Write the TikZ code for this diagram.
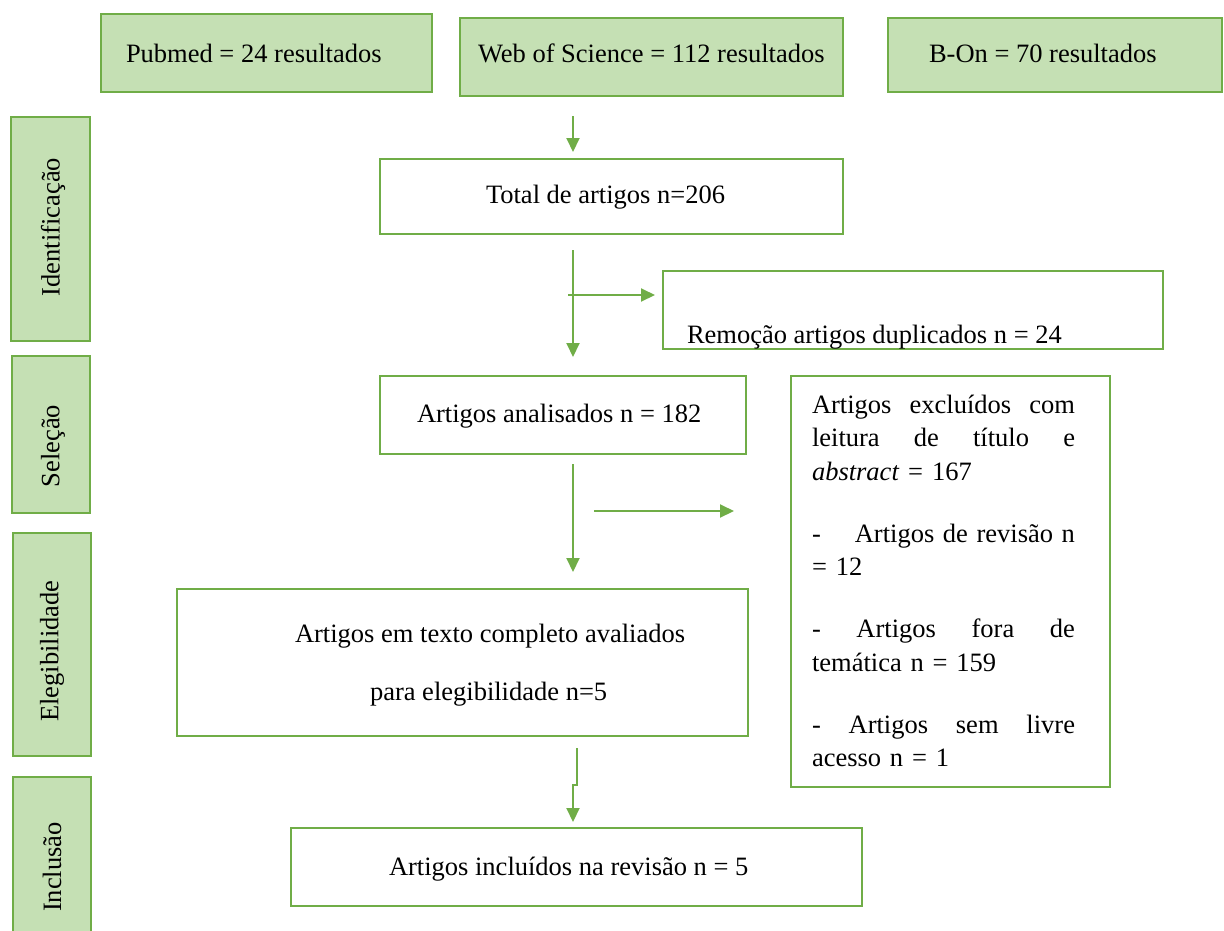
\documentclass[tikz,border=0pt]{standalone}
\usepackage{fontspec}
\setmainfont{Liberation Serif}
\usetikzlibrary{arrows.meta}
\definecolor{gfill}{HTML}{C5E0B4}
\definecolor{gline}{HTML}{70AD47}
\tikzset{
  gbox/.style={draw=gline, fill=gfill, line width=2.5pt, inner sep=0pt, outer sep=0pt},
  wbox/.style={draw=gline, fill=white, line width=2.5pt, inner sep=0pt, outer sep=0pt},
  txt/.style={inner sep=0pt, outer sep=0pt, anchor=base west, font=\fontsize{26.5}{33.5}\selectfont},
  side/.style={inner sep=0pt, outer sep=0pt, rotate=90, font=\fontsize{26.5}{33.5}\selectfont},
  arr/.style={draw=gline, line width=2pt, -{Triangle[width=13pt,length=14pt]}}
}
\begin{document}
\begin{tikzpicture}[x=1pt,y=-1pt]
\useasboundingbox (0,0) rectangle (1224,930);
% source boxes
\node[gbox, minimum width=331pt, minimum height=78pt] (pub) at (266.5,53) {};
\node[gbox, minimum width=383pt, minimum height=78pt] (wos) at (651.5,57) {};
\node[gbox, minimum width=334pt, minimum height=74pt] (bon) at (1055,55) {};
\node[txt] (pubT) at (126,62) {Pubmed = 24 resultados};
\node[txt] (wosT) at (478,62) {Web of Science = 112 resultados};
\node[txt] (bonT) at (929,62) {B-On = 70 resultados};
% side stage boxes
\node[gbox, minimum width=79pt, minimum height=224pt] (idB) at (50.5,229) {};
\node[gbox, minimum width=78pt, minimum height=157pt] (selB) at (51,434.5) {};
\node[gbox, minimum width=78pt, minimum height=223pt] (elB) at (52,644.5) {};
\node[gbox, minimum width=78pt, minimum height=186pt] (inB) at (52,870) {};
\node[side] (idT) at (53,227) {Identificação};
\node[side] (selT) at (53,446) {Seleção};
\node[side] (elT) at (52,651) {Elegibilidade};
\node[side] (inT) at (52,867) {Inclusão};
% flow boxes
\node[wbox, minimum width=463pt, minimum height=75pt] (tot) at (611.5,196.5) {};
\node[wbox, minimum width=500pt, minimum height=78pt] (rem) at (913,310) {};
\node[wbox, minimum width=366pt, minimum height=78pt] (ana) at (563,415) {};
\node[wbox, minimum width=571pt, minimum height=147pt] (eleg) at (462.5,662.5) {};
\node[wbox, minimum width=319pt, minimum height=411pt] (exc) at (950.5,581.5) {};
\node[wbox, minimum width=571pt, minimum height=78pt] (inc) at (576.5,867) {};
\node[txt] (totT) at (486,203) {Total de artigos n=206};
\node[txt] (remT) at (687,343) {Remoção artigos duplicados n = 24};
\node[txt] (anaT) at (417,422) {Artigos analisados n = 182};
\node[txt] (elT1) at (295,642) {Artigos em texto completo avaliados};
\node[txt] (elT2) at (370,700) {para elegibilidade n=5};
\node[txt] (incT) at (389,875) {Artigos incluídos na revisão n = 5};
\node[txt, text width=263pt] (excT) at (812,413) {\parindent=0pt%
\hbox to 263pt{Artigos\hfill excluídos\hfill com}\par
\hbox to 263pt{leitura\hfill de\hfill título\hfill e}\par
\hbox{\textit{abstract} = 167}\par
\vspace{28.5pt}%
\hbox to 263pt{-\hspace{34pt}Artigos\hfill de\hfill revisão\hfill n}\par
\hbox{= 12}\par
\vspace{28.5pt}%
\hbox to 263pt{-\hfill Artigos\hfill fora\hfill de}\par
\hbox{temática n = 159}\par
\vspace{28.5pt}%
\hbox to 263pt{-\hfill Artigos\hfill sem\hfill livre}\par
\hbox{acesso n = 1}};
% connectors
\coordinate (c1) at (573,116);
\draw[arr, shorten >=7pt] (c1) -- (c1 |- tot.north);
\coordinate (c2) at (573,250);
\draw[arr, shorten >=19pt] (c2) -- (c2 |- ana.north);
\coordinate (c3) at (568,295);
\draw[arr, shorten >=8pt] (c3) -- (c3 -| rem.west);
\coordinate (c4) at (573,464);
\draw[arr, shorten >=17pt] (c4) -- (c4 |- eleg.north);
\coordinate (c5) at (594,511);
\draw[arr, shorten >=57pt] (c5) -- (c5 -| exc.west);
\coordinate (c6) at (577,748);
\coordinate (c7) at (573,785);
\draw[arr, shorten >=6pt] (c6) -- (c6 |- c7) -- (c7) -- (c7 |- inc.north);
\end{tikzpicture}
\end{document}
